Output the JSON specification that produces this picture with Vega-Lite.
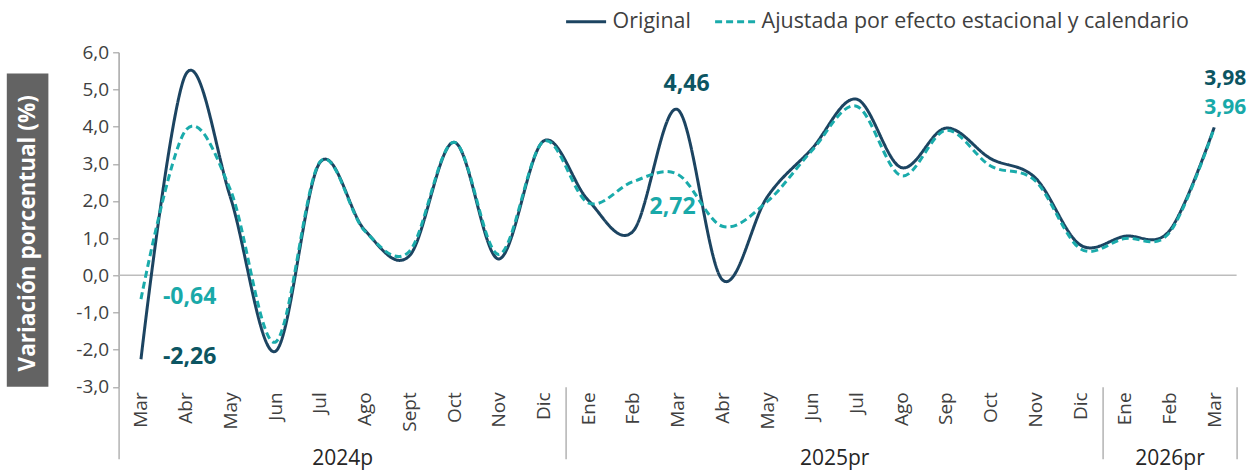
{
  "$schema": "https://vega.github.io/schema/vega-lite/v6.json",
  "width": 1118,
  "height": 334.5,
  "autosize": "none",
  "padding": {"left": 118.6, "top": 52.3, "right": 21.4, "bottom": 88.2},
  "background": "white",
  "config": {
    "view": {"stroke": null},
    "font": "Open Sans",
    "axis": {"labelFont": "Open Sans", "labelColor": "#404040", "grid": false}
  },
  "data": {
    "values": [
      {"i": 0, "serie": "Original", "v": -2.26},
      {"i": 1, "serie": "Original", "v": 5.4},
      {"i": 2, "serie": "Original", "v": 2.1},
      {"i": 3, "serie": "Original", "v": -2.05},
      {"i": 4, "serie": "Original", "v": 3.03},
      {"i": 5, "serie": "Original", "v": 1.22},
      {"i": 6, "serie": "Original", "v": 0.52},
      {"i": 7, "serie": "Original", "v": 3.58},
      {"i": 8, "serie": "Original", "v": 0.44},
      {"i": 9, "serie": "Original", "v": 3.61},
      {"i": 10, "serie": "Original", "v": 2.02},
      {"i": 11, "serie": "Original", "v": 1.18},
      {"i": 12, "serie": "Original", "v": 4.46},
      {"i": 13, "serie": "Original", "v": -0.12},
      {"i": 14, "serie": "Original", "v": 2.1},
      {"i": 15, "serie": "Original", "v": 3.4},
      {"i": 16, "serie": "Original", "v": 4.74},
      {"i": 17, "serie": "Original", "v": 2.9},
      {"i": 18, "serie": "Original", "v": 3.96},
      {"i": 19, "serie": "Original", "v": 3.14},
      {"i": 20, "serie": "Original", "v": 2.62},
      {"i": 21, "serie": "Original", "v": 0.82},
      {"i": 22, "serie": "Original", "v": 1.05},
      {"i": 23, "serie": "Original", "v": 1.2},
      {"i": 24, "serie": "Original", "v": 3.98},
      {"i": 0, "serie": "Ajustada por efecto estacional y calendario", "v": -0.64},
      {"i": 1, "serie": "Ajustada por efecto estacional y calendario", "v": 3.9},
      {"i": 2, "serie": "Ajustada por efecto estacional y calendario", "v": 2.3},
      {"i": 3, "serie": "Ajustada por efecto estacional y calendario", "v": -1.8},
      {"i": 4, "serie": "Ajustada por efecto estacional y calendario", "v": 3.05},
      {"i": 5, "serie": "Ajustada por efecto estacional y calendario", "v": 1.2},
      {"i": 6, "serie": "Ajustada por efecto estacional y calendario", "v": 0.64},
      {"i": 7, "serie": "Ajustada por efecto estacional y calendario", "v": 3.58},
      {"i": 8, "serie": "Ajustada por efecto estacional y calendario", "v": 0.56},
      {"i": 9, "serie": "Ajustada por efecto estacional y calendario", "v": 3.6},
      {"i": 10, "serie": "Ajustada por efecto estacional y calendario", "v": 1.95},
      {"i": 11, "serie": "Ajustada por efecto estacional y calendario", "v": 2.52},
      {"i": 12, "serie": "Ajustada por efecto estacional y calendario", "v": 2.72},
      {"i": 13, "serie": "Ajustada por efecto estacional y calendario", "v": 1.32},
      {"i": 14, "serie": "Ajustada por efecto estacional y calendario", "v": 1.98},
      {"i": 15, "serie": "Ajustada por efecto estacional y calendario", "v": 3.35},
      {"i": 16, "serie": "Ajustada por efecto estacional y calendario", "v": 4.55},
      {"i": 17, "serie": "Ajustada por efecto estacional y calendario", "v": 2.68},
      {"i": 18, "serie": "Ajustada por efecto estacional y calendario", "v": 3.9},
      {"i": 19, "serie": "Ajustada por efecto estacional y calendario", "v": 2.94},
      {"i": 20, "serie": "Ajustada por efecto estacional y calendario", "v": 2.54},
      {"i": 21, "serie": "Ajustada por efecto estacional y calendario", "v": 0.72},
      {"i": 22, "serie": "Ajustada por efecto estacional y calendario", "v": 0.99},
      {"i": 23, "serie": "Ajustada por efecto estacional y calendario", "v": 1.15},
      {"i": 24, "serie": "Ajustada por efecto estacional y calendario", "v": 3.96}
    ]
  },
  "transform": [
    {"calculate": "replace(replace(format(datum.v, '.2f'), '.', ','), '\u2212', '-')", "as": "lbl"}
  ],
  "layer": [
    {
      "data": {"values": [{}]},
      "mark": {"type": "rect", "color": "#636363", "clip": false},
      "encoding": {
        "x": {"datum": -3.0, "type": "quantitative", "axis": null, "scale": {"domain": [-0.5, 24.5], "nice": false, "zero": false}},
        "x2": {"datum": -2.07},
        "y": {"datum": 5.43, "type": "quantitative", "axis": null, "scale": {"domain": [-3, 6], "nice": false, "zero": false}},
        "y2": {"datum": -3.0}
      }
    },
    {
      "data": {"values": [{}]},
      "mark": {"type": "text", "text": "Variación porcentual (%)", "angle": 270, "color": "white", "fontWeight": "bold", "fontSize": 22.5, "align": "center", "baseline": "middle", "font": "Open Sans", "clip": false},
      "encoding": {
        "x": {"datum": -2.53, "type": "quantitative", "axis": null},
        "y": {"datum": 1.13, "type": "quantitative", "axis": null}
      }
    },
    {
      "data": {"values": [{}]},
      "mark": {"type": "rule", "color": "#bdbdbd", "strokeWidth": 1.5},
      "encoding": {"y": {"datum": 0, "type": "quantitative", "axis": null}}
    },
    {
      "mark": {"type": "line", "interpolate": "cardinal", "tension": 0, "strokeWidth": 3},
      "encoding": {
        "x": {
          "field": "i", "type": "quantitative",
          "scale": {"domain": [-0.5, 24.5], "nice": false, "zero": false},
          "axis": {
            "orient": "bottom", "title": null, "values": [0,1,2,3,4,5,6,7,8,9,10,11,12,13,14,15,16,17,18,19,20,21,22,23,24],
            "labelExpr": "['Mar','Abr','May','Jun','Jul','Ago','Sept','Oct','Nov','Dic','Ene','Feb','Mar','Abr','May','Jun','Jul','Ago','Sep','Oct','Nov','Dic','Ene','Feb','Mar'][datum.value]",
            "labelAngle": 270, "labelAlign": "right", "labelBaseline": "middle", "ticks": false, "domain": false,
            "labelPadding": 5, "labelFontSize": 19, "labelOverlap": false, "labelBound": false, "labelFlush": false
          }
        },
        "y": {
          "field": "v", "type": "quantitative",
          "scale": {"domain": [-3, 6], "nice": false, "zero": false},
          "axis": {
            "orient": "left", "title": null, "values": [-3,-2,-1,0,1,2,3,4,5,6],
            "labelExpr": "replace(replace(format(datum.value, '.1f'), '.', ','), '\u2212', '-')",
            "tickSize": 6, "tickColor": "#a6a6a6", "tickWidth": 1.2, "domainColor": "#a6a6a6", "domainWidth": 1.5,
            "labelFontSize": 19, "labelPadding": 4, "labelOverlap": false
          }
        },
        "color": {
          "field": "serie", "type": "nominal",
          "scale": {"domain": ["Original", "Ajustada por efecto estacional y calendario"], "range": ["#1c4461", "#1aabab"]},
          "legend": {
            "title": null, "orient": "none", "legendX": 446, "legendY": -52, "direction": "horizontal",
            "symbolType": "stroke", "symbolSize": 1600, "symbolStrokeWidth": 3, "labelFontSize": 21.4, "labelFont": "Open Sans",
            "labelColor": "#404040", "labelLimit": 700, "labelOffset": 5, "columnPadding": 17, "padding": 0
          }
        },
        "strokeDash": {
          "field": "serie", "type": "nominal",
          "scale": {"domain": ["Original", "Ajustada por efecto estacional y calendario"], "range": [[1, 0], [7, 4]]},
          "legend": {
            "title": null, "orient": "none", "legendX": 446, "legendY": -52, "direction": "horizontal",
            "symbolType": "stroke", "symbolSize": 1600, "symbolStrokeWidth": 3, "labelFontSize": 21.4, "labelFont": "Open Sans",
            "labelColor": "#404040", "labelLimit": 700, "labelOffset": 5, "columnPadding": 17, "padding": 0
          }
        },
        "order": {"field": "i", "type": "quantitative"}
      }
    },
    {
      "mark": {"type": "point", "opacity": 0},
      "encoding": {
        "x": {
          "field": "i", "type": "quantitative",
          "axis": {"orient": "bottom", "title": null, "values": [-0.5, 9.5, 21.5, 24.5], "labels": false, "domain": false,
                   "ticks": true, "tickSize": 72, "tickColor": "#b3b3b3", "tickWidth": 1.5}
        },
        "y": {"field": "v", "type": "quantitative", "axis": null}
      }
    },
    {
      "mark": {"type": "point", "opacity": 0},
      "encoding": {
        "x": {
          "field": "i", "type": "quantitative",
          "axis": {"orient": "bottom", "title": null, "values": [4.5, 15.5, 23],
                   "labelExpr": "datum.value < 5 ? '2024p' : (datum.value < 20 ? '2025pr' : '2026pr')",
                   "ticks": false, "domain": false, "labelAngle": 0, "labelAlign": "center", "labelBaseline": "top",
                   "labelPadding": 61, "labelFontSize": 21, "labelOverlap": false, "labelColor": "#262626"}
        },
        "y": {"field": "v", "type": "quantitative", "axis": null}
      }
    },
    {
      "transform": [{"filter": "datum.i == 0 && datum.serie == 'Original'"}],
      "mark": {"type": "text", "align": "left", "baseline": "middle", "dx": 22, "dy": -2, "fontSize": 23, "fontWeight": "bold", "color": "#0c5562"},
      "encoding": {"x": {"field": "i", "type": "quantitative", "axis": null}, "y": {"field": "v", "type": "quantitative", "axis": null}, "text": {"field": "lbl"}}
    },
    {
      "transform": [{"filter": "datum.i == 0 && datum.serie != 'Original'"}],
      "mark": {"type": "text", "align": "left", "baseline": "middle", "dx": 22, "dy": -2, "fontSize": 23, "fontWeight": "bold", "color": "#19a9a9"},
      "encoding": {"x": {"field": "i", "type": "quantitative", "axis": null}, "y": {"field": "v", "type": "quantitative", "axis": null}, "text": {"field": "lbl"}}
    },
    {
      "transform": [{"filter": "datum.i == 12 && datum.serie == 'Original'"}],
      "mark": {"type": "text", "align": "center", "baseline": "middle", "dx": 9, "dy": -26, "fontSize": 23, "fontWeight": "bold", "color": "#0c5562"},
      "encoding": {"x": {"field": "i", "type": "quantitative", "axis": null}, "y": {"field": "v", "type": "quantitative", "axis": null}, "text": {"field": "lbl"}}
    },
    {
      "transform": [{"filter": "datum.i == 12 && datum.serie != 'Original'"}],
      "mark": {"type": "text", "align": "center", "baseline": "middle", "dx": -5, "dy": 33, "fontSize": 23, "fontWeight": "bold", "color": "#19a9a9"},
      "encoding": {"x": {"field": "i", "type": "quantitative", "axis": null}, "y": {"field": "v", "type": "quantitative", "axis": null}, "text": {"field": "lbl"}}
    },
    {
      "transform": [{"filter": "datum.i == 24 && datum.serie == 'Original'"}],
      "mark": {"type": "text", "align": "center", "baseline": "middle", "dx": 11, "dy": -48, "fontSize": 21, "fontWeight": "bold", "color": "#0c5562", "clip": false},
      "encoding": {"x": {"field": "i", "type": "quantitative", "axis": null}, "y": {"field": "v", "type": "quantitative", "axis": null}, "text": {"field": "lbl"}}
    },
    {
      "transform": [{"filter": "datum.i == 24 && datum.serie != 'Original'"}],
      "mark": {"type": "text", "align": "center", "baseline": "middle", "dx": 11, "dy": -20, "fontSize": 21, "fontWeight": "bold", "color": "#19a9a9", "clip": false},
      "encoding": {"x": {"field": "i", "type": "quantitative", "axis": null}, "y": {"field": "v", "type": "quantitative", "axis": null}, "text": {"field": "lbl"}}
    }
  ],
  "resolve": {"axis": {"x": "independent", "y": "independent"}}
}
